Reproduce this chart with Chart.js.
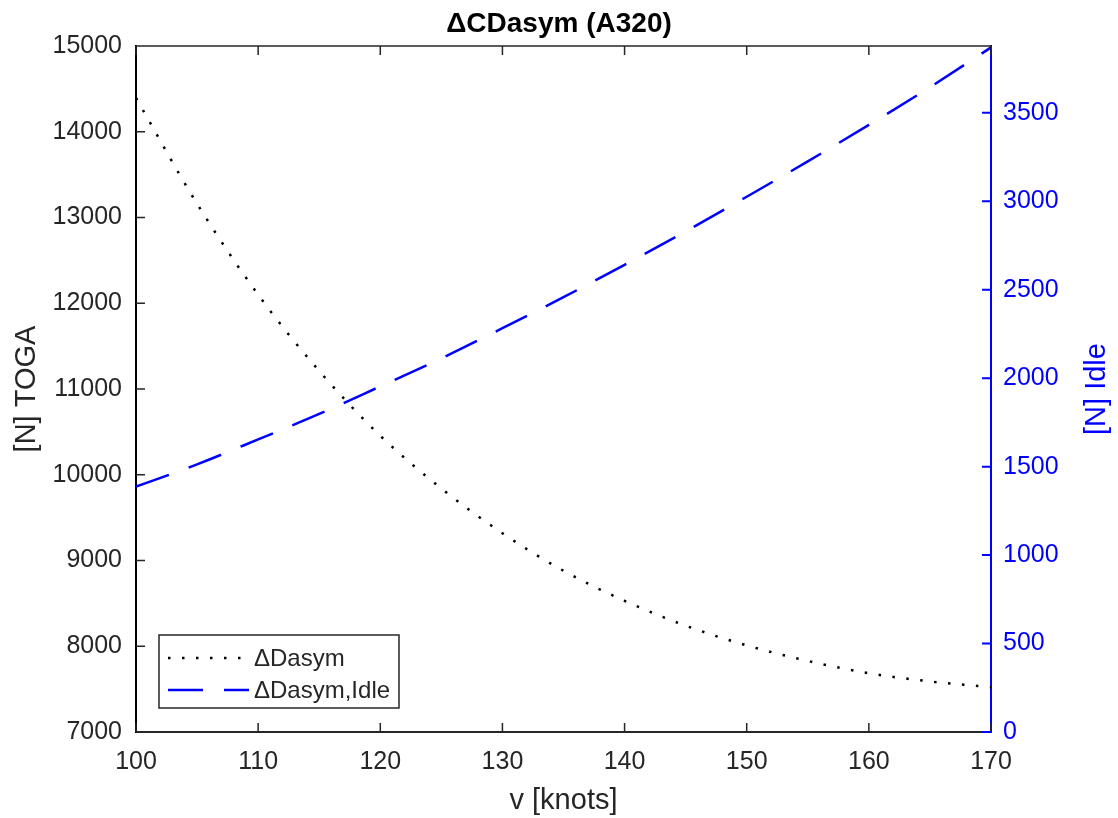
<!doctype html>
<html lang="en">
    <head>
        <meta charset="UTF-8" />
        <title>ΔCDasym (A320)</title>
        <style>
            html, body { margin: 0; padding: 0; background: #fff; }
            #wrap { width: 1118px; height: 818px; }
        </style>
    </head>
    <body>
        <div id="wrap"><canvas id="dragChart"></canvas></div>

        <script src="https://cdn.jsdelivr.net/npm/chart.js@4/dist/chart.umd.min.js"></script>
        <script>
            // speed in knots
            const speeds = [100, 105, 110, 115, 120, 125, 130, 135, 140, 145, 150, 155, 160, 165, 170];
            // asymmetric drag, TOGA thrust [N] (left axis)
            const dragToga = [14394, 13160, 12100, 11210, 10455, 9840, 9318, 8880, 8530, 8240, 8010, 7829, 7685, 7590, 7522];
            // asymmetric drag, idle thrust [N] (right axis)
            const dragIdle = [1387, 1513, 1654, 1798, 1954, 2112, 2283, 2458, 2641, 2830, 3026, 3226, 3432, 3645, 3870];

            const xTicks = [100, 110, 120, 130, 140, 150, 160, 170];
            const leftTicks = [7000, 8000, 9000, 10000, 11000, 12000, 13000, 14000, 15000];
            const rightTicks = [0, 500, 1000, 1500, 2000, 2500, 3000, 3500];
            const rightMax = 3878;

            const FONT = "'Liberation Sans', Arial, sans-serif";
            const INK = "#262626";
            const BLUE = "#0000ff";

            const toPoints = (ys) => speeds.map((s, i) => ({ x: s, y: ys[i] }));
            const plain = (v) => String(v);

            // ticks pointing into the box, top border, right axis title
            const innerTicks = {
                id: "innerTicks",
                afterDatasetsDraw(chart) {
                    const { ctx, chartArea: a, scales } = chart;
                    const len = 9;
                    ctx.save();
                    ctx.lineWidth = 1.5;
                    ctx.strokeStyle = INK;
                    ctx.beginPath();
                    ctx.moveTo(a.left, a.top);
                    ctx.lineTo(a.right, a.top);
                    xTicks.forEach((v) => {
                        const px = scales.x.getPixelForValue(v);
                        ctx.moveTo(px, a.bottom);
                        ctx.lineTo(px, a.bottom - len);
                        ctx.moveTo(px, a.top);
                        ctx.lineTo(px, a.top + len);
                    });
                    leftTicks.forEach((v) => {
                        const py = scales.y.getPixelForValue(v);
                        ctx.moveTo(a.left, py);
                        ctx.lineTo(a.left + len, py);
                    });
                    ctx.stroke();
                    ctx.strokeStyle = BLUE;
                    ctx.lineWidth = 2;
                    ctx.beginPath();
                    rightTicks.forEach((v) => {
                        const py = scales.y1.getPixelForValue(v);
                        ctx.moveTo(a.right, py);
                        ctx.lineTo(a.right - len, py);
                    });
                    ctx.stroke();

                    // right title reads bottom-to-top like the left one
                    ctx.translate(scales.y1.right - 21, (a.top + a.bottom) / 2);
                    ctx.rotate(-Math.PI / 2);
                    ctx.fillStyle = BLUE;
                    ctx.font = `29px ${FONT}`;
                    ctx.textAlign = "center";
                    ctx.textBaseline = "middle";
                    ctx.fillText("[N] Idle", 0, 0);
                    ctx.restore();
                },
            };

            // legend box in lower left of the axes
            const boxLegend = {
                id: "boxLegend",
                afterDraw(chart) {
                    const { ctx, chartArea: a } = chart;
                    const x0 = a.left + 23;
                    const y0 = a.bottom - 97;
                    const w = 240;
                    const h = 73;
                    ctx.save();
                    ctx.fillStyle = "#fff";
                    ctx.fillRect(x0, y0, w, h);
                    ctx.strokeStyle = INK;
                    ctx.lineWidth = 1.5;
                    ctx.strokeRect(x0, y0, w, h);
                    chart.data.datasets.forEach((ds, i) => {
                        const cy = y0 + 23 + i * 32;
                        ctx.strokeStyle = ds.borderColor;
                        ctx.lineWidth = ds.borderWidth;
                        ctx.setLineDash(ds.borderDash);
                        ctx.beginPath();
                        ctx.moveTo(x0 + 9, cy);
                        ctx.lineTo(x0 + 90, cy);
                        ctx.stroke();
                        ctx.setLineDash([]);
                        ctx.fillStyle = INK;
                        ctx.font = `24px ${FONT}`;
                        ctx.textBaseline = "middle";
                        ctx.fillText(ds.label, x0 + 95, cy + 1);
                    });
                    ctx.restore();
                },
            };

            const context = document.querySelector("#dragChart").getContext("2d");
            const dragChart = new Chart(context, {
                type: "line",
                data: {
                    datasets: [
                        {
                            label: "ΔDasym",
                            data: toPoints(dragToga),
                            yAxisID: "y",
                            borderColor: "#000",
                            borderWidth: 2.5,
                            borderDash: [2.5, 11.5],
                            borderCapStyle: "butt",
                            pointRadius: 0,
                            cubicInterpolationMode: "monotone",
                        },
                        {
                            label: "ΔDasym,Idle",
                            data: toPoints(dragIdle),
                            yAxisID: "y1",
                            borderColor: BLUE,
                            borderWidth: 2.5,
                            borderDash: [35, 21],
                            borderCapStyle: "butt",
                            pointRadius: 0,
                            cubicInterpolationMode: "monotone",
                        },
                    ],
                },
                options: {
                    responsive: true,
                    maintainAspectRatio: false,
                    animation: false,
                    layout: { padding: 0 },
                    plugins: {
                        legend: { display: false },
                        tooltip: { enabled: false },
                        title: {
                            display: true,
                            text: "ΔCDasym (A320)",
                            color: "#000",
                            font: { family: FONT, size: 28, weight: "bold" },
                            padding: { top: 7, bottom: 5.4 },
                        },
                    },
                    scales: {
                        x: {
                            type: "linear",
                            min: 100,
                            max: 170,
                            afterBuildTicks: (s) => { s.ticks = xTicks.map((v) => ({ value: v })); },
                            afterFit: (s) => { s.height = 86; },
                            grid: { display: false, drawTicks: false },
                            border: { color: INK, width: 2 },
                            ticks: { color: INK, padding: 15, callback: plain, font: { family: FONT, size: 25 } },
                            title: {
                                display: true,
                                text: "v [knots]",
                                color: INK,
                                font: { family: FONT, size: 29 },
                                padding: { top: 0, bottom: 0 },
                            },
                        },
                        y: {
                            position: "left",
                            min: 7000,
                            max: 15000,
                            afterBuildTicks: (s) => { s.ticks = leftTicks.map((v) => ({ value: v })); },
                            afterFit: (s) => { s.width = 136; },
                            grid: { display: false, drawTicks: false },
                            border: { color: "#000", width: 2 },
                            ticks: { color: INK, padding: 14, callback: plain, font: { family: FONT, size: 25 } },
                            title: {
                                display: true,
                                text: "[N] TOGA",
                                color: INK,
                                font: { family: FONT, size: 29 },
                                padding: { top: 10, bottom: 0 },
                            },
                        },
                        y1: {
                            position: "right",
                            min: 0,
                            max: rightMax,
                            afterBuildTicks: (s) => { s.ticks = rightTicks.map((v) => ({ value: v })); },
                            afterFit: (s) => { s.width = 127; },
                            grid: { display: false, drawTicks: false },
                            border: { color: BLUE, width: 2 },
                            ticks: { color: BLUE, padding: 12, callback: plain, font: { family: FONT, size: 25 } },
                        },
                    },
                },
                plugins: [innerTicks, boxLegend],
            });
        </script>
    </body>
</html>
